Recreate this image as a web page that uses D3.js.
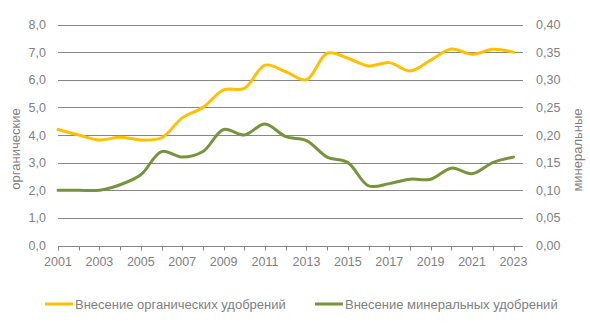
<!DOCTYPE html>
<html>
<head>
<meta charset="utf-8">
<script src="https://cdn.jsdelivr.net/npm/d3@7"></script>
<style>
  html, body { margin: 0; padding: 0; background: #fff; }
  svg { display: block; font-family: "Liberation Sans", Arial, sans-serif; }
</style>
</head>
<body>
<svg id="chart" width="590" height="325"></svg>
<script>
// Years on the category axis
const years = [2001, 2002, 2003, 2004, 2005, 2006, 2007, 2008, 2009, 2010, 2011, 2012,
               2013, 2014, 2015, 2016, 2017, 2018, 2019, 2020, 2021, 2022, 2023];
// Organic fertilizer application (left axis)
const organic = [4.2, 4.0, 3.82, 3.92, 3.82, 3.9, 4.62, 5.0, 5.63, 5.69, 6.53, 6.29,
                 6.0, 6.96, 6.78, 6.5, 6.62, 6.32, 6.71, 7.11, 6.92, 7.1, 7.0];
// Mineral fertilizer application (right axis)
const mineral = [0.10, 0.10, 0.10, 0.11, 0.128, 0.17, 0.16, 0.17, 0.21, 0.20, 0.22, 0.197,
                 0.19, 0.16, 0.15, 0.108, 0.112, 0.12, 0.12, 0.14, 0.13, 0.15, 0.16];
const leftTicks = [0, 1, 2, 3, 4, 5, 6, 7, 8];
const rightTicks = [0, 0.05, 0.10, 0.15, 0.20, 0.25, 0.30, 0.35, 0.40];
const xTickLabels = [2001, 2003, 2005, 2007, 2009, 2011, 2013, 2015, 2017, 2019, 2021, 2023];
const seriesNames = ["Внесение органических удобрений", "Внесение минеральных удобрений"];
const seriesColors = ["#FFC000", "#77933C"];

const svg = d3.select("#chart");
const textColor = "#7f7f7f";
const gridColor = "#868686";
const tickFont = 12.5, labelFont = 13;

const plotLeft = 58, plotRight = 523, plotTop = 24.5, plotBottom = 245.5;

const x = d3.scalePoint().domain(years).range([plotLeft, 513.5]);
const yL = d3.scaleLinear().domain([0, 8]).range([plotBottom, plotTop]);
const yR = d3.scaleLinear().domain([0, 0.4]).range([plotBottom, plotTop]);

const fmt1 = v => d3.format(".1f")(v).replace(".", ",");
const fmt2 = v => d3.format(".2f")(v).replace(".", ",");

// Horizontal gridlines
svg.append("g")
  .selectAll("line")
  .data(leftTicks.filter(d => d > 0))
  .join("line")
  .attr("x1", plotLeft).attr("x2", plotRight)
  .attr("y1", d => Math.round(yL(d)) + 0.5).attr("y2", d => Math.round(yL(d)) + 0.5)
  .attr("stroke", gridColor).attr("stroke-width", 1);

// Category axis line and tick marks
const axisY = Math.round(yL(0)) + 0.5;
svg.append("line")
  .attr("x1", plotLeft).attr("x2", plotRight)
  .attr("y1", axisY).attr("y2", axisY)
  .attr("stroke", gridColor);
svg.append("g")
  .selectAll("line")
  .data(years)
  .join("line")
  .attr("x1", d => Math.round(x(d)) + 0.5).attr("x2", d => Math.round(x(d)) + 0.5)
  .attr("y1", axisY).attr("y2", axisY + 4)
  .attr("stroke", gridColor);

// Year labels
svg.append("g")
  .selectAll("text")
  .data(xTickLabels)
  .join("text")
  .attr("x", d => x(d)).attr("y", 266)
  .attr("text-anchor", "middle")
  .attr("font-size", tickFont).attr("fill", textColor)
  .text(d => d);

// Left value labels
svg.append("g")
  .selectAll("text")
  .data(leftTicks)
  .join("text")
  .attr("x", 46).attr("y", d => yL(d) + 4.5)
  .attr("text-anchor", "end")
  .attr("font-size", tickFont).attr("fill", textColor)
  .text(fmt1);

// Right value labels
svg.append("g")
  .selectAll("text")
  .data(rightTicks)
  .join("text")
  .attr("x", 536).attr("y", d => yR(d) + 4.5)
  .attr("text-anchor", "start")
  .attr("font-size", tickFont).attr("fill", textColor)
  .text(fmt2);

// Axis titles
svg.append("text")
  .attr("transform", "translate(20,149) rotate(-90)")
  .attr("text-anchor", "middle")
  .attr("font-size", labelFont).attr("fill", textColor)
  .text("органические");
svg.append("text")
  .attr("transform", "translate(582,150) rotate(-90)")
  .attr("text-anchor", "middle")
  .attr("font-size", labelFont).attr("fill", textColor)
  .text("минеральные");

// Smoothed series lines
const curve = d3.curveCatmullRom.alpha(0.5);
const lineL = d3.line().x((d, i) => x(years[i])).y(d => yL(d)).curve(curve);
const lineR = d3.line().x((d, i) => x(years[i])).y(d => yR(d)).curve(curve);

svg.append("path").datum(mineral)
  .attr("d", lineR).attr("fill", "none")
  .attr("stroke", seriesColors[1]).attr("stroke-width", 3)
  .attr("stroke-linejoin", "round").attr("stroke-linecap", "round");
svg.append("path").datum(organic)
  .attr("d", lineL).attr("fill", "none")
  .attr("stroke", seriesColors[0]).attr("stroke-width", 3)
  .attr("stroke-linejoin", "round").attr("stroke-linecap", "round");

// Legend
const legendItems = [
  { name: seriesNames[0], color: seriesColors[0], x: 45 },
  { name: seriesNames[1], color: seriesColors[1], x: 315 }
];
const lg = svg.append("g").selectAll("g").data(legendItems).join("g")
  .attr("transform", d => `translate(${d.x},304)`);
lg.append("line")
  .attr("x1", 0).attr("x2", 28).attr("y1", 0).attr("y2", 0)
  .attr("stroke", d => d.color).attr("stroke-width", 3);
lg.append("text")
  .attr("x", 30).attr("y", 4.5)
  .attr("font-size", labelFont).attr("fill", textColor)
  .text(d => d.name);
</script>
</body>
</html>
